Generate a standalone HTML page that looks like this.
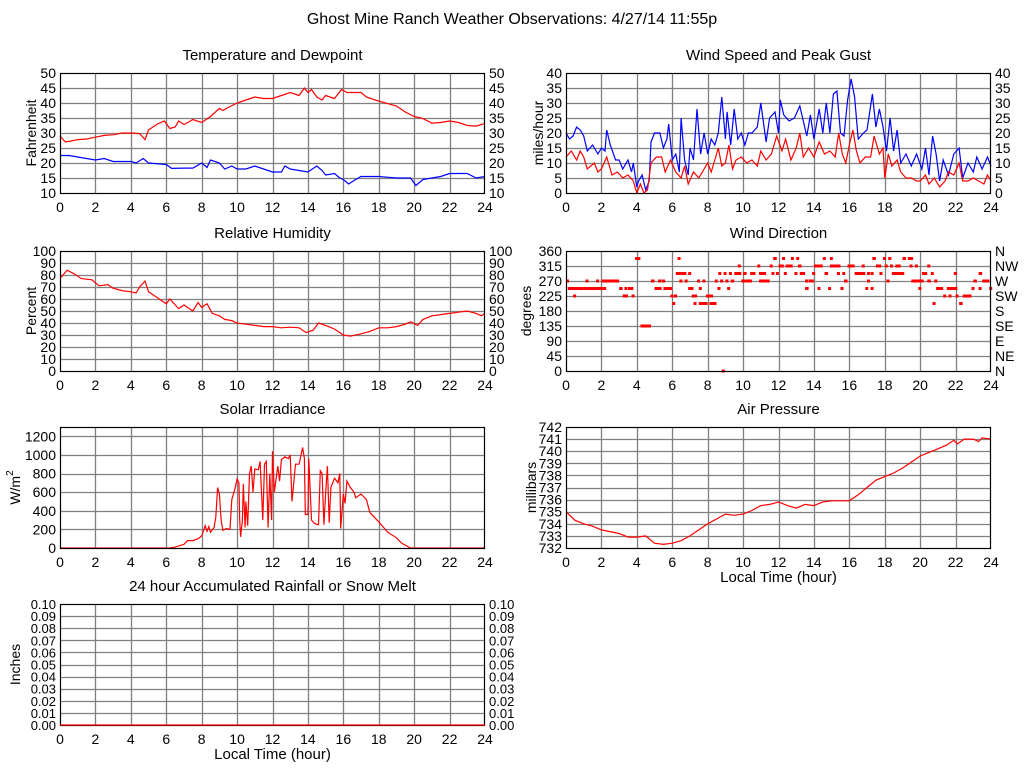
<!DOCTYPE html>
<html><head><meta charset="utf-8"><title>Ghost Mine Ranch Weather</title>
<style>
html,body{margin:0;padding:0;background:#fff;}
svg{display:block;font-family:"Liberation Sans",sans-serif;}
</style></head>
<body>
<svg id="chart" width="1024" height="768" viewBox="0 0 1024 768">
<rect width="1024" height="768" fill="#fff"/>
<text x="512" y="24" font-size="16" text-anchor="middle">Ghost Mine Ranch Weather Observations: 4/27/14 11:55p</text>
</svg>
<script>
// ---- data ----
const xTicks = [0,2,4,6,8,10,12,14,16,18,20,22,24];
const tempHours = [0,0.3,0.6,1,1.5,2,2.5,3,3.5,4,4.5,4.8,5,5.5,5.9,6.2,6.5,6.7,7,7.5,8,8.5,9,9.2,9.5,10,10.5,11,11.5,12,12.5,13,13.5,13.8,14,14.2,14.5,14.8,15,15.5,15.9,16.2,16.5,17,17.3,17.8,18.5,19,19.5,20,20.5,21,21.5,22,22.5,23,23.5,24];
const tempVals = [29,27,27.3,27.8,28,28.6,29.2,29.4,30,30,29.8,27.8,31,33,34,31.5,32,34,32.8,34.5,33.5,35.5,38.2,37.5,38.5,40,41,42,41.5,41.5,42.5,43.5,42.5,45,43.5,44.5,42,41,42.5,41.5,44.5,43.5,43.5,43.5,42,41,39.8,39,37,35.5,34.8,33.3,33.5,34,33.5,32.5,32.3,33.2];
const dewHours = [0,0.5,1,2,2.5,3,4,4.3,4.7,5,6,6.3,7,7.5,8,8.3,8.5,9,9.3,9.7,10,10.5,11,11.5,12,12.5,12.7,13,13.5,14,14.5,14.8,15,15.5,15.8,16,16.3,16.7,17,17.5,18,19,19.8,20.1,20.5,21,21.5,22,22.5,23,23.5,24];
const dewVals = [22.5,22.5,22,21,21.5,20.5,20.5,20,21.5,20,19.5,18.2,18.3,18.3,20,18.5,21,20,18,19,18,18,19,18,17,17,19,18,17.5,17,19,17.5,16,16.5,15,14.5,13,14.5,15.5,15.5,15.5,15,15,12.5,14.5,15,15.5,16.5,16.5,16.5,15,15.5];
const gustHours = [0,0.2,0.4,0.6,0.8,1,1.2,1.5,1.8,2,2.2,2.3,2.5,2.8,3,3.2,3.5,3.7,3.8,4,4.1,4.3,4.5,4.7,4.8,5,5.3,5.5,5.7,5.8,6,6.2,6.4,6.5,6.7,6.9,7,7.2,7.4,7.6,7.8,8,8.2,8.4,8.6,8.8,9,9.1,9.3,9.5,9.7,9.9,10.1,10.3,10.5,10.8,11,11.3,11.5,11.8,12,12.1,12.3,12.6,12.9,13.2,13.4,13.6,13.8,14,14.3,14.5,14.7,14.9,15.1,15.3,15.5,15.7,15.9,16.1,16.3,16.5,16.8,17,17.3,17.5,17.7,17.9,18.1,18.3,18.5,18.7,18.9,19.2,19.5,19.8,20.1,20.3,20.5,20.7,20.9,21.1,21.3,21.6,21.9,22.2,22.4,22.7,23,23.2,23.5,23.8,24];
const gustVals = [20,18,19,22,21,19,14,16,13,15,14,21,16,11,11,8,11,7,10,2,4,6,1,4,17,20,20,15,18,23,11,13,7,25,11,6,15,11,28,13,20,13,18,16,20,32,18,27,16,28,18,20,16,20,20,22,30,17,25,27,20,31,26,24,25,29,24,19,26,18,28,20,30,20,33,34,20,19,31,38,32,18,20,21,33,22,28,22,14,25,14,21,10,13,9,13,8,15,6,19,13,4,11,6,13,15,5,10,7,12,8,12,9];
const speedHours = [0,0.3,0.6,0.8,1,1.2,1.6,1.8,2,2.3,2.6,2.9,3.2,3.5,3.8,4,4.2,4.4,4.6,4.8,5.1,5.4,5.6,5.9,6.2,6.5,6.7,6.9,7.2,7.5,7.8,8,8.2,8.4,8.6,8.8,9,9.2,9.4,9.6,9.9,10.2,10.5,10.8,11,11.3,11.6,11.9,12.2,12.4,12.7,13,13.2,13.4,13.7,14,14.3,14.6,14.9,15.2,15.4,15.6,15.8,16,16.2,16.4,16.6,16.9,17.2,17.4,17.7,17.9,18,18.2,18.4,18.7,18.9,19.2,19.5,19.8,20,20.3,20.5,20.8,21.1,21.4,21.6,21.9,22.2,22.4,22.7,23,23.3,23.6,23.8,24];
const speedVals = [12,14,11,14,12,8,10,7,8,12,6,7,5,6,4,0,3,0,1,10,12,12,7,11,7,5,9,3,7,5,8,10,7,11,15,9,10,16,8,11,12,10,11,9,14,11,13,19,14,18,11,15,20,12,15,12,17,13,14,12,20,13,10,16,21,14,10,12,12,19,13,15,5,13,9,11,7,5,5,4,4,6,3,5,2,4,7,6,10,4,4,5,4,3,6,4];
const rhHours = [0,0.4,0.8,1.2,1.8,2.2,2.7,3,3.5,4,4.3,4.5,4.8,5,5.5,6,6.2,6.7,7,7.5,7.8,8,8.3,8.6,9,9.3,9.7,10,10.5,11,11.5,12,12.5,13,13.5,13.9,14.3,14.6,15,15.5,16,16.4,17,17.5,18,18.5,19,19.5,19.8,20.2,20.5,21,21.5,22,22.5,23,23.5,23.8,24];
const rhVals = [77,84,81,77,76,71,72,69,67,66,65,70,75,66,61,56,60,52,55,50,57,53,56,48,46,43,42,40,39,38,37,37,36,36.5,36,32,34,40,38,35,30,29,31,33,36,36,37,39,41,38,43,46,47,48,49,50,48,46,48];
const dirStart = [0,0.1,0.4,1.0,1.1,1.7,2.0,2.1,3.0,3.2,3.3,3.5,3.7,3.9,4.2,4.8,5.0,5.2,5.4,5.5,5.7,5.9,6.0,6.1,6.2,6.3,6.4,6.5,6.7,6.9,6.9,7.1,7.2,7.4,7.5,7.5,7.7,7.9,8.1,8.4,8.55,8.6,8.7,8.8,8.9,9.0,9.1,9.2,9.3,9.5,9.7,9.9,10.0,10.4,10.8,10.9,10.9,11.0,11.5,11.6,11.7,11.85,12.0,12.2,12.3,12.4,12.7,12.9,13.0,13.1,13.2,13.5,13.5,13.7,13.9,14.0,14.2,14.5,14.6,14.8,14.9,14.9,15.3,15.5,15.6,15.7,15.9,16.3,16.7,16.9,17.0,17.0,17.2,17.2,17.3,17.5,17.7,17.9,18.0,18.1,18.2,18.3,18.4,18.6,18.8,19.0,19.3,19.4,19.5,19.7,19.9,20.1,20.4,20.4,20.6,20.7,20.8,20.9,21.3,21.5,21.6,21.9,22.0,22.2,22.4,22.9,23.0,23.3,23.3,23.5,23.9];
const dirEnd   = [0.1,1.0,0.45,2.1,1.15,1.75,3.0,2.2,3.2,3.5,3.35,3.8,3.75,4.2,4.8,5.0,5.4,5.25,5.6,5.7,6.0,5.95,6.05,6.15,6.5,6.35,6.45,6.8,6.75,6.95,7.2,7.4,7.25,7.45,7.55,8.0,7.75,8.3,8.5,8.45,8.6,8.65,8.75,8.85,8.95,9.05,9.15,9.25,9.5,9.9,9.75,10.5,10.2,10.7,10.85,10.95,11.3,11.5,11.55,11.65,11.9,11.9,12.3,12.25,12.35,12.8,12.75,12.95,13.05,13.3,13.5,13.55,13.7,14.0,13.95,14.5,14.25,14.55,14.8,14.85,14.95,15.5,15.35,15.55,15.65,15.9,16.3,16.9,16.75,16.95,17.05,17.05,17.25,17.25,17.5,17.8,17.75,17.95,18.05,18.15,18.25,18.35,18.8,18.9,19.1,19.2,19.6,19.45,20.2,19.75,19.95,20.4,20.45,20.6,20.65,20.75,20.85,21.3,21.35,22.1,21.65,21.95,22.05,22.4,22.9,22.95,23.2,23.35,23.5,23.9,24];
const dirDeg   = [270,247.5,225,247.5,270,270,270,247.5,247.5,225,247.5,247.5,225,337.5,135,270,247.5,270,270,247.5,247.5,225,202.5,225,292.5,337.5,270,292.5,270,292.5,247.5,225,202.5,270,247.5,202.5,270,225,202.5,270,247.5,292.5,270,0,292.5,270,247.5,292.5,270,292.5,315,270,292.5,292.5,315,270,292.5,270,315,292.5,337.5,292.5,315,337.5,292.5,315,337.5,292.5,337.5,315,292.5,270,247.5,270,292.5,315,247.5,337.5,292.5,247.5,337.5,315,292.5,247.5,292.5,270,315,292.5,315,247.5,270,292.5,247.5,292.5,337.5,315,292.5,337.5,315,270,337.5,315,292.5,315,292.5,337.5,337.5,315,270,315,247.5,292.5,315,270,292.5,202.5,270,247.5,225,247.5,225,292.5,225,202.5,225,247.5,270,247.5,292.5,270,247.5];
const solarHours = [0,6.2,6.5,7,7.2,7.5,7.8,8,8.2,8.3,8.4,8.5,8.7,8.8,8.9,9.0,9.1,9.2,9.4,9.6,9.7,9.9,10.0,10.1,10.15,10.2,10.3,10.35,10.45,10.5,10.6,10.7,10.8,10.9,11.0,11.2,11.3,11.45,11.55,11.65,11.75,11.85,11.95,12.0,12.1,12.3,12.4,12.5,12.7,12.9,13.0,13.1,13.3,13.5,13.7,13.8,13.85,14.0,14.05,14.2,14.4,14.6,14.7,14.8,14.9,15.0,15.1,15.2,15.3,15.5,15.7,15.8,15.85,16.0,16.1,16.2,16.4,16.6,16.7,17.0,17.3,17.5,18,18.5,19,19.3,19.7,19.8,24];
const solarVals = [0,0,10,40,80,80,100,130,240,180,230,170,220,330,650,580,300,190,210,200,520,650,740,700,300,120,300,690,220,500,240,800,880,600,850,840,930,300,900,930,220,800,300,1040,600,880,720,950,980,960,1000,500,900,900,1080,960,360,360,960,300,260,250,830,800,250,580,880,270,650,750,700,800,210,580,480,720,650,600,540,580,520,380,280,170,110,50,10,0,0];
const presHours = [0,0.5,1,1.5,2,3,3.5,4,4.5,5,5.5,6,6.5,7,7.5,8,8.5,9,9.5,10,10.5,11,11.5,12,12.5,13,13.5,14,14.5,15,15.5,16,16.5,17,17.5,18,18.5,19,19.5,20,20.5,21,21.5,21.9,22.1,22.5,23,23.3,23.5,24];
const presVals = [735,734.3,734,733.8,733.5,733.2,732.9,732.9,733,732.4,732.3,732.4,732.6,733,733.5,734,734.4,734.8,734.7,734.8,735.1,735.5,735.6,735.8,735.5,735.3,735.6,735.5,735.8,735.9,735.9,735.9,736.4,737,737.6,737.9,738.2,738.6,739.1,739.6,739.9,740.2,740.5,740.9,740.6,741,741,740.8,741.1,741];
const rainHours = [0,24];
const rainVals = [0,0];
const tempTicks = [10,15,20,25,30,35,40,45,50];
const windTicks = [0,5,10,15,20,25,30,35,40];
const rhTicks = [0,10,20,30,40,50,60,70,80,90,100];
const dirTicks = [0,45,90,135,180,225,270,315,360];
const dirLabels = ['N','NE','E','SE','S','SW','W','NW','N'];
const solarTicks = [0,200,400,600,800,1000,1200];
const presTicks = [732,733,734,735,736,737,738,739,740,741,742];
const rainTicks = [0,0.01,0.02,0.03,0.04,0.05,0.06,0.07,0.08,0.09,0.10];

const NS = 'http://www.w3.org/2000/svg';
const svg = document.getElementById('chart');
function mk(tag, attrs, parent){const e=document.createElementNS(NS,tag);for(const k in attrs)e.setAttribute(k,attrs[k]);(parent||svg).appendChild(e);return e;}

function panel(o){
  const g = mk('g',{});
  
  
  const X = h => o.x0 + (h/24)*(o.x1-o.x0);
  const Y = v => o.y1 - (v-o.vmin)/(o.vmax-o.vmin)*(o.y1-o.y0);
  o.X = X; o.Y = Y;
  mk('rect',{x:o.x0,y:o.y0,width:o.x1-o.x0,height:o.y1-o.y0,fill:'#fff'},g);
  // grid
  xTicks.forEach(t=>{ if(t>0&&t<24){ const x=Math.round(X(t))+0.5;
    const l=mk('line',{x1:x,x2:x,y1:o.y0,y2:o.y1,stroke:'#808080','stroke-width':1.3},g);
    
     }});
  o.ticks.forEach(t=>{ if(t>o.vmin&&t<o.vmax){ const y=Math.round(Y(t))+0.5;
    const l=mk('line',{x1:o.x0,x2:o.x1,y1:y,y2:y,stroke:'#808080','stroke-width':1.3},g);
    
     }});
  // ticks labels
  xTicks.forEach(t=>{ const tx=mk('text',{x:X(t),y:o.y1+19,'font-size':14,'text-anchor':'middle'},g); tx.textContent=t;
    
     });
  o.ticks.forEach((t,i)=>{ const tx=mk('text',{x:o.x0-4,y:Y(t)+5,'font-size':o.fs||14,'text-anchor':'end'},g); tx.textContent=o.fmt?o.fmt(t):t;
    
    
    if(o.right){ const r=mk('text',{x:o.x1+4,y:Y(t)+5,'font-size':o.fs||14,'text-anchor':'start'},g); r.textContent=o.rightLabels?o.rightLabels[i]:(o.fmt?o.fmt(t):t);
      
       }});
  const ti=mk('text',{x:(o.x0+o.x1)/2,y:o.y0-13,'font-size':15,'text-anchor':'middle'},g); ti.textContent=o.title;
  
  
  const cy=(o.y0+o.y1)/2;
  const yt=mk('text',{x:o.ytx,y:cy,'font-size':14,'text-anchor':'middle',transform:`rotate(-90 ${o.ytx} ${cy})`},g);
  if(o.ytitleSup){ yt.textContent=o.ytitle; const s=mk('tspan',{dy:-7,'font-size':10},yt); s.textContent=o.ytitleSup; } else yt.textContent=o.ytitle;
  
  
  if(o.xtitle){ const xt=mk('text',{x:(o.x0+o.x1)/2,y:o.y1+34,'font-size':15,'text-anchor':'middle'},g); xt.textContent='Local Time (hour)';
    
     }
  o.g=g;
  return o;
}
function border(o){ const b=mk('rect',{x:o.x0+0.5,y:o.y0+0.5,width:o.x1-o.x0-1,height:o.y1-o.y0,fill:'none',stroke:'#000','stroke-width':1.2},o.g);
  
   }
function line(o, hs, vs, color, name){
  const d = hs.map((h,i)=>(i?'L':'M')+o.X(h).toFixed(1)+' '+o.Y(vs[i]).toFixed(1)).join(' ');
  const p = mk('path',{d:d,fill:'none',stroke:color,'stroke-width':1.2},o.g);
  
  
}

const T = panel({name:'temperature-panel',title:'Temperature and Dewpoint',x0:60,x1:485,y0:73,y1:193,vmin:10,vmax:50,ticks:tempTicks,right:true,ytitle:'Fahrenheit',ytx:36});
line(T,tempHours,tempVals,'#ff0000','temperature-line'); line(T,dewHours,dewVals,'#0000ff','dewpoint-line'); border(T);

const W = panel({name:'wind-speed-panel',title:'Wind Speed and Peak Gust',x0:566,x1:991,y0:73,y1:193,vmin:0,vmax:40,ticks:windTicks,right:true,ytitle:'miles/hour',ytx:543});
line(W,gustHours,gustVals,'#0000ff','gust-line'); line(W,speedHours,speedVals,'#ff0000','wind-speed-line'); border(W);

const R = panel({name:'humidity-panel',title:'Relative Humidity',x0:60,x1:485,y0:251,y1:371,vmin:0,vmax:100,ticks:rhTicks,right:true,ytitle:'Percent',ytx:36});
line(R,rhHours,rhVals,'#ff0000','humidity-line'); border(R);

const D = panel({name:'wind-direction-panel',title:'Wind Direction',x0:566,x1:991,y0:251,y1:371,vmin:0,vmax:360,ticks:dirTicks,right:true,rightLabels:dirLabels,ytitle:'degrees',ytx:531});
dirStart.forEach((s,i)=>{ const x=D.X(s), x2=D.X(dirEnd[i]);
  const r=mk('rect',{x:x,y:D.Y(dirDeg[i])-1.5,width:Math.max(3,x2-x),height:3,fill:'#ff0000'},D.g);
  
   });
border(D);

const S = panel({name:'solar-panel',title:'Solar Irradiance',x0:60,x1:485,y0:427,y1:548,vmin:0,vmax:1300,ticks:solarTicks,right:false,ytitle:'W/m',ytitleSup:'2',ytx:20});
line(S,solarHours,solarVals,'#ff0000','solar-line'); border(S);

const P = panel({name:'pressure-panel',title:'Air Pressure',x0:566,x1:991,y0:427,y1:548,vmin:732,vmax:742,ticks:presTicks,right:false,ytitle:'millibars',ytx:536,xtitle:true});
line(P,presHours,presVals,'#ff0000','pressure-line'); border(P);

const N = panel({name:'rainfall-panel',title:'24 hour Accumulated Rainfall or Snow Melt',x0:60,x1:485,y0:604,y1:725,vmin:0,vmax:0.1,ticks:rainTicks,right:true,fmt:v=>v.toFixed(2),fs:13,ytitle:'Inches',ytx:20,xtitle:true});
border(N); line(N,rainHours,rainVals,'#ff0000','rainfall-line');
</script>
</body></html>
